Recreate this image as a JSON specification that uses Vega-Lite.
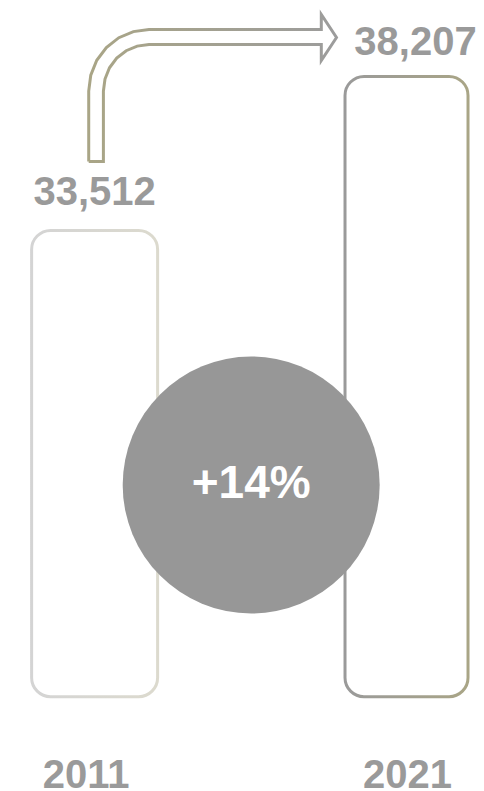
{
  "$schema": "https://vega.github.io/schema/vega-lite/v6.json",
  "width": 484,
  "height": 791,
  "autosize": "none",
  "padding": 0,
  "background": "white",
  "config": {"view": {"stroke": null}},
  "datasets": {
    "bars": [
      {"year": 2011, "value": 33512},
      {"year": 2021, "value": 38207}
    ],
    "arrow": [
      {"order": 1, "year": 2010.811, "value": 35615},
      {"order": 2, "year": 2010.811, "value": 37765},
      {"order": 3, "year": 2010.877, "value": 38249},
      {"order": 4, "year": 2011.069, "value": 38702},
      {"order": 5, "year": 2011.377, "value": 39091},
      {"order": 6, "year": 2011.777, "value": 39390},
      {"order": 7, "year": 2012.243, "value": 39576},
      {"order": 8, "year": 2012.742, "value": 39640},
      {"order": 9, "year": 2018.268, "value": 39640},
      {"order": 10, "year": 2018.268, "value": 40097},
      {"order": 11, "year": 2018.755, "value": 39396},
      {"order": 12, "year": 2018.268, "value": 38694},
      {"order": 13, "year": 2018.268, "value": 39182},
      {"order": 14, "year": 2012.742, "value": 39182},
      {"order": 15, "year": 2012.365, "value": 39133},
      {"order": 16, "year": 2012.012, "value": 38993},
      {"order": 17, "year": 2011.709, "value": 38768},
      {"order": 18, "year": 2011.477, "value": 38473},
      {"order": 19, "year": 2011.333, "value": 38130},
      {"order": 20, "year": 2011.282, "value": 37765},
      {"order": 21, "year": 2011.282, "value": 35615},
      {"order": 22, "year": 2010.811, "value": 35615}
    ],
    "growth": [
      {"year": 2016.02, "value": 25752, "label": "+14%"}
    ]
  },
  "encoding": {
    "x": {"field": "year", "type": "quantitative", "scale": {"domain": [2008.127, 2023.324], "nice": false, "zero": false}, "axis": null},
    "y": {"field": "value", "type": "quantitative", "scale": {"domain": [16423, 40539], "nice": false, "zero": false}, "axis": null}
  },
  "layer": [
    {
      "data": {"name": "bars"},
      "transform": [{"filter": "datum.year == 2011"}],
      "mark": {
        "type": "bar", "orient": "vertical", "size": 126, "cornerRadius": 19,
        "fill": "transparent", "strokeWidth": 3,
        "stroke": {"gradient": "linear", "x1": 0, "y1": 0, "x2": 1, "y2": 0,
          "stops": [{"offset": 0, "color": "#d4d4d4"}, {"offset": 1, "color": "#dcdace"}]}
      },
      "encoding": {"y2": {"datum": 19300}}
    },
    {
      "data": {"name": "bars"},
      "transform": [{"filter": "datum.year == 2021"}],
      "mark": {
        "type": "bar", "orient": "vertical", "size": 123, "cornerRadius": 19,
        "fill": "transparent", "strokeWidth": 3,
        "stroke": {"gradient": "linear", "x1": 0, "y1": 0, "x2": 1, "y2": 0,
          "stops": [{"offset": 0, "color": "#9a9a9a"}, {"offset": 1, "color": "#a9a586"}]}
      },
      "encoding": {"y2": {"datum": 19300}}
    },
    {
      "data": {"name": "arrow"},
      "mark": {
        "type": "line", "strokeWidth": 3, "strokeJoin": "miter",
        "stroke": {"gradient": "linear", "x1": 0, "y1": 0, "x2": 1, "y2": 0,
          "stops": [{"offset": 0, "color": "#a9a586"}, {"offset": 1, "color": "#9c9c9c"}]}
      },
      "encoding": {"order": {"field": "order", "type": "quantitative"}}
    },
    {
      "data": {"name": "growth"},
      "mark": {"type": "point", "shape": "circle", "filled": true, "size": 66049, "color": "#979797", "opacity": 1},
      "encoding": {}
    },
    {
      "data": {"name": "growth"},
      "mark": {"type": "text", "font": "Liberation Sans", "fontWeight": "bold", "fontSize": 46, "color": "white", "baseline": "alphabetic", "align": "center", "dy": 13},
      "encoding": {"text": {"field": "label"}}
    },
    {
      "data": {"name": "bars"},
      "transform": [{"filter": "datum.year == 2011"}],
      "mark": {"type": "text", "font": "Liberation Sans", "fontWeight": "bold", "fontSize": 40, "color": "#9a9a9a", "baseline": "alphabetic", "align": "center", "dy": -25.5},
      "encoding": {"text": {"field": "value", "type": "quantitative", "format": ",d"}}
    },
    {
      "data": {"name": "bars"},
      "transform": [{"filter": "datum.year == 2021"}],
      "mark": {"type": "text", "font": "Liberation Sans", "fontWeight": "bold", "fontSize": 40, "color": "#9a9a9a", "baseline": "alphabetic", "align": "center", "dy": -21.5, "dx": 9},
      "encoding": {"text": {"field": "value", "type": "quantitative", "format": ",d"}}
    },
    {
      "data": {"name": "bars"},
      "transform": [{"filter": "datum.year == 2011"}],
      "mark": {"type": "text", "font": "Liberation Sans", "fontWeight": "bold", "fontSize": 40, "color": "#9a9a9a", "baseline": "alphabetic", "align": "center", "dx": -8.5},
      "encoding": {"y": {"datum": 16514}, "text": {"field": "year", "type": "nominal"}}
    },
    {
      "data": {"name": "bars"},
      "transform": [{"filter": "datum.year == 2021"}],
      "mark": {"type": "text", "font": "Liberation Sans", "fontWeight": "bold", "fontSize": 40, "color": "#9a9a9a", "baseline": "alphabetic", "align": "center", "dx": 1},
      "encoding": {"y": {"datum": 16514}, "text": {"field": "year", "type": "nominal"}}
    }
  ]
}
